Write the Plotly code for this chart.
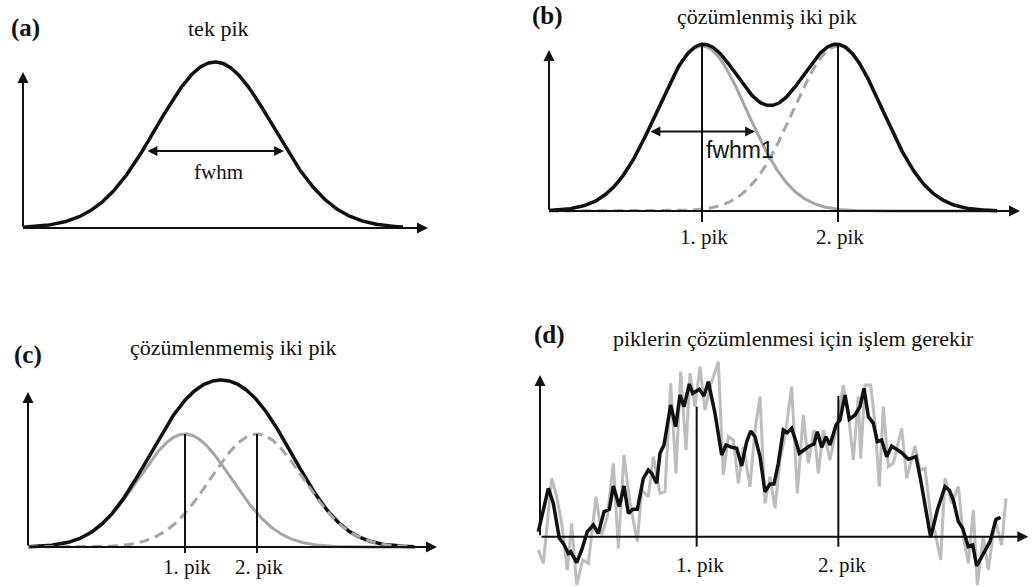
import numpy as np
import plotly.graph_objects as go

W, H = 1036, 587

# ---------------- data ----------------
PANEL_LABELS = ["(a)", "(b)", "(c)", "(d)"]
PANEL_TITLES = ["tek pik", "çözümlenmiş iki pik", "çözümlenmemiş iki pik",
                "piklerin çözümlenmesi için işlem gerekir"]
PEAK_LABELS = ["1. pik", "2. pik"]

# (a) single peak: centre, height, fwhm (arbitrary units)
A_CENTER = [192]
A_HEIGHT = [166]
A_FWHM = [138]
A_XMAX = 380

# (b) resolved two peaks
B_CENTERS = [153, 289]
B_HEIGHTS = [165, 165]
B_FWHM = [106, 106]
B_XMAX = 448

# (c) unresolved two peaks
C_CENTERS = [157, 229]
C_HEIGHTS = [113, 113]
C_FWHM = [109, 109]
C_XMAX = 387

# (d) noisy signal (raw = gray, smoothed = black)
D_BLACK_X = [55, 85, 100, 118, 130, 145, 152, 170, 185, 202, 220, 235, 252, 268, 280, 298, 312, 325,
             338, 352, 370, 385, 395, 410, 420, 432, 452, 467, 480, 492, 508, 518, 538, 552, 565, 585,
             605, 618, 635, 650, 665, 680, 692, 705, 720, 735, 750, 762, 775, 790, 802, 815, 828, 838,
             852, 868, 882, 892, 905, 918, 930, 948, 960, 975, 988, 1005, 1020, 1032, 1045, 1060, 1072,
             1085, 1100, 1115, 1130, 1145, 1165, 1188, 1202, 1232, 1252, 1275, 1288, 1300, 1315, 1328,
             1345, 1358, 1370, 1388, 1410, 1428, 1442]
D_BLACK_Y = [15, 145, 100, -5, -20, -50, -45, -78, -40, 15, 35, 10, 75, 82, 152, 90, 152, 70,
             82, 82, 175, 200, 190, 160, 250, 275, 395, 330, 425, 390, 458, 430, 442, 422, 465, 370,
             245, 275, 268, 265, 212, 285, 317, 300, 240, 135, 158, 158, 220, 320, 312, 325, 285, 250,
             260, 272, 278, 315, 268, 300, 275, 335, 350, 425, 352, 365, 390, 445, 360, 340, 285,
             290, 240, 272, 262, 252, 232, 240, 170, -2, 80, 150, 140, 110, 45, 25,
             -30, -25, -88, -55, -15, 52, 58]
D_GRAY_X = [55, 70, 95, 110, 125, 142, 155, 170, 188, 205, 228, 245, 262, 280, 295, 312, 330, 352,
            365, 385, 400, 420, 435, 452, 468, 482, 498, 510, 525, 540, 555, 570, 595, 610, 625, 640,
            655, 670, 690, 705, 720, 735, 750, 765, 780, 795, 815, 832, 850, 865, 882, 895, 910, 930,
            950, 970, 985, 1000, 1015, 1022, 1035, 1052, 1065, 1078, 1090, 1105, 1120, 1145, 1160,
            1185, 1200, 1215, 1235, 1245, 1262, 1275, 1295, 1315, 1330, 1345, 1360, 1372, 1390, 1405,
            1425, 1445, 1458]
D_GRAY_Y = [-40, -80, 175, 120, 40, -100, 40, -145, -70, -80, 120, 5, 60, 220, -35, 245, 100, -15,
            140, 120, 240, 130, 135, 460, 190, 495, 260, 490, 390, 510, 380, 450, 525, 185, 300, 290,
            160, 270, 150, 320, 420, 100, 180, 85, 230, 300, 450, 130, 365, 220, 320, 190, 320, 230,
            330, 455, 370, 230, 420, 235, 455, 455, 340, 150, 390, 210, 220, 325, 175,
            272, 200, 205, 40, 15, -70, 175, 100, 150, 0, -80, 80, -145, 0, -100,
            50, -25, 115]
D_PEAK_X = [530, 955]
D_PEAK_TOP = [390, 422]

# ---------------- styling ----------------
BLACK = "#111111"
GRAY = "#a6a6a6"
LGRAY = "#bdbdbd"
SERIF = "Liberation Serif"
SANS = "Liberation Sans"

fig = go.Figure()

# panel boxes in pixels (L, R, T, B), origin (ox, oy) and data-per-pixel scale
PANELS = [
    dict(L=0, R=500, T=40, B=262, ox=23, oy=228, s=1),
    dict(L=500, R=1036, T=30, B=262, ox=549, oy=211, s=1),
    dict(L=0, R=500, T=360, B=587, ox=28, oy=547, s=1),
    dict(L=500, R=1036, T=350, B=587, ox=520, oy=536.67, s=3),
]
AX_TIPS = [  # (x tip, y tip, x origin) in data units
    (405, 156, 0), (471, 161, 0), (409, 155, 0), (1525, 485, 60)]

layout_axes = {}
for i, p in enumerate(PANELS):
    n = "" if i == 0 else str(i + 1)
    layout_axes["xaxis" + n] = dict(
        domain=[p["L"] / W, p["R"] / W],
        range=[(p["L"] - p["ox"]) * p["s"], (p["R"] - p["ox"]) * p["s"]],
        visible=False, anchor="y" + n)
    layout_axes["yaxis" + n] = dict(
        domain=[1 - p["B"] / H, 1 - p["T"] / H],
        range=[(p["oy"] - p["B"]) * p["s"], (p["oy"] - p["T"]) * p["s"]],
        visible=False, anchor="x" + n)


def gauss(x, c, h, fwhm):
    s = fwhm / 2.3548
    return h * np.exp(-(x - c) ** 2 / (2 * s ** 2))


def line(x, y, k, color, width, dash="solid"):
    n = "" if k == 0 else str(k + 1)
    fig.add_trace(go.Scatter(x=x, y=y, mode="lines", xaxis="x" + n, yaxis="y" + n,
                             line=dict(color=color, width=width, dash=dash),
                             hoverinfo="skip", showlegend=False))


annotations = []


def arrow(k, x0, y0, x1, y1, both=False, width=2.0):
    n = "" if k == 0 else str(k + 1)
    a = dict(x=x1, y=y1, ax=x0, ay=y0, xref="x" + n, yref="y" + n,
             axref="x" + n, ayref="y" + n, text="", showarrow=True,
             arrowhead=2, arrowsize=1.1, arrowwidth=width, arrowcolor=BLACK)
    if both:
        a.update(arrowside="end+start", startarrowhead=2, startarrowsize=1.1)
    annotations.append(a)


def text(k, x, y, s, size, font=SERIF, bold=False):
    n = "" if k == 0 else str(k + 1)
    annotations.append(dict(x=x, y=y, xref="x" + n, yref="y" + n, text=("<b>%s</b>" % s) if bold else s,
                            showarrow=False, font=dict(family=font, size=size, color=BLACK),
                            xanchor="center", yanchor="middle"))


def ptext(px, py, s, size, bold=False, xanchor="center"):
    annotations.append(dict(x=px / W, y=1 - py / H, xref="paper", yref="paper",
                            text=("<b>%s</b>" % s) if bold else s, showarrow=False,
                            font=dict(family=SERIF, size=size, color=BLACK),
                            xanchor=xanchor, yanchor="middle"))


# axes arrows
for k, (xt, yt, x0) in enumerate(AX_TIPS):
    arrow(k, x0, 0, xt, 0)
    arrow(k, x0, 0, x0, yt)

# ---- (a)
xa = np.linspace(0, A_XMAX, 400)
ya = gauss(xa, A_CENTER[0], A_HEIGHT[0], A_FWHM[0])
line(xa, ya, 0, BLACK, 3.5)
half = A_HEIGHT[0] / 2 - 6
arrow(0, A_CENTER[0] - A_FWHM[0] / 2, half, A_CENTER[0] + A_FWHM[0] / 2, half, both=True, width=1.8)
text(0, A_CENTER[0] + 3, 56, "fwhm", 21)

# ---- (b)
xb = np.linspace(0, B_XMAX, 500)
g1 = gauss(xb, B_CENTERS[0], B_HEIGHTS[0], B_FWHM[0])
g2 = gauss(xb, B_CENTERS[1], B_HEIGHTS[1], B_FWHM[1])
line(xb, g1, 1, GRAY, 3)
line(xb, g2, 1, GRAY, 3, dash="10px,6px")
line(xb, g1 + g2, 1, BLACK, 3.5)
for c, h in zip(B_CENTERS, B_HEIGHTS):
    line([c, c], [h, -11], 1, BLACK, 2)
halfb = B_HEIGHTS[0] / 2 - 3
arrow(1, B_CENTERS[0] - B_FWHM[0] / 2, halfb, B_CENTERS[0] + B_FWHM[0] / 2, halfb, both=True, width=1.8)
text(1, 191, 61, "fwhm1", 23, font=SANS)
for c, lab in zip(B_CENTERS, PEAK_LABELS):
    text(1, c + 2, -26, lab, 21)

# ---- (c)
xc = np.linspace(0, C_XMAX, 500)
h1 = gauss(xc, C_CENTERS[0], C_HEIGHTS[0], C_FWHM[0])
h2 = gauss(xc, C_CENTERS[1], C_HEIGHTS[1], C_FWHM[1])
line(xc, h1, 2, GRAY, 3)
line(xc, h1 + h2, 2, BLACK, 3.5)
line(xc, h2, 2, GRAY, 3, dash="10px,6px")
for c, h in zip(C_CENTERS, C_HEIGHTS):
    line([c, c], [h, -6], 2, BLACK, 2)
for c, lab in zip(C_CENTERS, PEAK_LABELS):
    text(2, c + 2, -20, lab, 21)

# ---- (d)
line(D_GRAY_X, D_GRAY_Y, 3, LGRAY, 3)
line(D_BLACK_X, D_BLACK_Y, 3, BLACK, 3.5)
for c, t in zip(D_PEAK_X, D_PEAK_TOP):
    line([c, c], [t, -30], 3, BLACK, 2)
for c, lab in zip(D_PEAK_X, PEAK_LABELS):
    text(3, c + 10, -85, lab, 21)

# titles and panel labels
ptext(25, 28, PANEL_LABELS[0], 25, bold=True)
ptext(218, 28, PANEL_TITLES[0], 22)
ptext(547, 16, PANEL_LABELS[1], 25, bold=True)
ptext(767, 16, PANEL_TITLES[1], 22)
ptext(28, 355, PANEL_LABELS[2], 25, bold=True)
ptext(233, 347, PANEL_TITLES[2], 22)
ptext(549, 335, PANEL_LABELS[3], 25, bold=True)
ptext(793, 338, PANEL_TITLES[3], 22)

fig.update_layout(width=W, height=H, margin=dict(l=0, r=0, t=0, b=0),
                  paper_bgcolor="white", plot_bgcolor="white", showlegend=False,
                  annotations=annotations, **layout_axes)
fig.write_html("out.html")
